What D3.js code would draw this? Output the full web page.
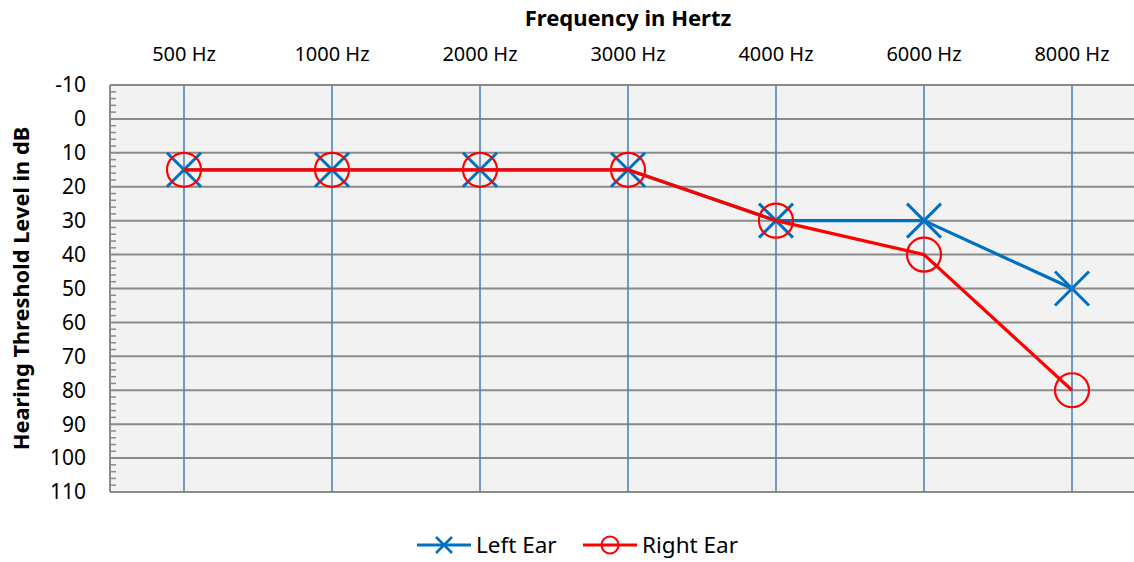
<!DOCTYPE html>
<html>
<head>
<meta charset="utf-8">
<script src="https://cdn.jsdelivr.net/npm/d3@7"></script>
<style>
  html, body { margin: 0; padding: 0; background: #fff; overflow: hidden; }
  svg { display: block; font-family: "Noto Sans", sans-serif; }
</style>
</head>
<body>
<svg id="chart" width="1134" height="562"></svg>
<script>
// ---------------------------------------------------------------------------
// Chart data
// ---------------------------------------------------------------------------
const frequencies = ["500 Hz", "1000 Hz", "2000 Hz", "3000 Hz", "4000 Hz", "6000 Hz", "8000 Hz"];
const leftEar  = [15, 15, 15, 15, 30, 30, 50];
const rightEar = [15, 15, 15, 15, 30, 40, 80];
const dbTicks  = [-10, 0, 10, 20, 30, 40, 50, 60, 70, 80, 90, 100, 110];

const BLUE = "#0070c0", RED = "#ff0000";

// Plot area (runs a little past the right edge of the window, as in the original)
const PLOT = { left: 110, right: 1146, top: 85, bottom: 492 };

const svg = d3.select("#chart");

const x = d3.scalePoint()
  .domain(frequencies)
  .range([PLOT.left, PLOT.right])
  .padding(0.5);

const y = d3.scaleLinear()
  .domain([-10, 110])
  .range([PLOT.top, PLOT.bottom]);

// Background
svg.append("rect")
  .attr("x", PLOT.left).attr("y", PLOT.top)
  .attr("width", PLOT.right - PLOT.left).attr("height", PLOT.bottom - PLOT.top)
  .attr("fill", "#f2f2f2");

// Horizontal gridlines at every major dB tick
svg.append("g")
  .selectAll("line")
  .data(dbTicks)
  .join("line")
  .attr("x1", PLOT.left).attr("x2", PLOT.right)
  .attr("y1", d => y(d)).attr("y2", d => y(d))
  .attr("stroke", "#8a8a8a")
  .attr("stroke-width", 2);

// Minor ticks every 2 dB, drawn inward from the left axis
const minor = d3.range(-10, 110, 2).filter(v => v % 10 !== 0);
svg.append("g")
  .selectAll("line")
  .data(minor)
  .join("line")
  .attr("x1", PLOT.left).attr("x2", PLOT.left + 6)
  .attr("y1", d => y(d)).attr("y2", d => y(d))
  .attr("stroke", "#8a8a8a")
  .attr("stroke-width", 1.5);

// Left axis line
svg.append("line")
  .attr("x1", PLOT.left).attr("x2", PLOT.left)
  .attr("y1", PLOT.top).attr("y2", PLOT.bottom)
  .attr("stroke", "#8a8a8a")
  .attr("stroke-width", 2);

// Vertical frequency gridlines
svg.append("g")
  .selectAll("line")
  .data(frequencies)
  .join("line")
  .attr("x1", d => x(d)).attr("x2", d => x(d))
  .attr("y1", PLOT.top).attr("y2", PLOT.bottom)
  .attr("stroke", "#4f81bd")
  .attr("stroke-width", 1.6);

// Y tick labels
svg.append("g")
  .selectAll("text")
  .data(dbTicks)
  .join("text")
  .attr("x", 86)
  .attr("y", d => y(d))
  .attr("dy", "0.35em")
  .attr("text-anchor", "end")
  .attr("font-size", 21)
  .attr("fill", "#000")
  .text(d => d);

// X tick labels (top)
svg.append("g")
  .selectAll("text")
  .data(frequencies)
  .join("text")
  .attr("x", d => x(d))
  .attr("y", 54)
  .attr("dy", "0.35em")
  .attr("text-anchor", "middle")
  .attr("font-size", 20)
  .attr("fill", "#000")
  .text(d => d);

// Axis titles
svg.append("text")
  .attr("x", (PLOT.left + PLOT.right) / 2)
  .attr("y", 18)
  .attr("dy", "0.35em")
  .attr("text-anchor", "middle")
  .attr("font-size", 22)
  .attr("font-weight", 700)
  .text("Frequency in Hertz");

svg.append("text")
  .attr("transform", `translate(21,${(PLOT.top + PLOT.bottom) / 2}) rotate(-90)`)
  .attr("dy", "0.35em")
  .attr("text-anchor", "middle")
  .attr("font-size", 21.8)
  .attr("font-weight", 700)
  .text("Hearing Threshold Level in dB");

// ---------------------------------------------------------------------------
// Series
// ---------------------------------------------------------------------------
const line = d3.line()
  .x((d, i) => x(frequencies[i]))
  .y(d => y(d));

function drawX(sel, size, width) {
  sel.append("path")
    .attr("d", `M${-size},${-size}L${size},${size}M${-size},${size}L${size},${-size}`)
    .attr("stroke", BLUE)
    .attr("stroke-width", width)
    .attr("fill", "none");
}

// Left ear (blue, X markers)
svg.append("path")
  .datum(leftEar)
  .attr("d", line)
  .attr("fill", "none")
  .attr("stroke", BLUE)
  .attr("stroke-width", 3.2)
  .attr("stroke-linejoin", "round");

svg.append("g")
  .selectAll("g")
  .data(leftEar)
  .join("g")
  .attr("transform", (d, i) => `translate(${x(frequencies[i])},${y(d)})`)
  .each(function () { drawX(d3.select(this), 17, 3); });

// Right ear (red, O markers)
svg.append("path")
  .datum(rightEar)
  .attr("d", line)
  .attr("fill", "none")
  .attr("stroke", RED)
  .attr("stroke-width", 3.2)
  .attr("stroke-linejoin", "round");

svg.append("g")
  .selectAll("circle")
  .data(rightEar)
  .join("circle")
  .attr("cx", (d, i) => x(frequencies[i]))
  .attr("cy", d => y(d))
  .attr("r", 17)
  .attr("fill", "none")
  .attr("stroke", RED)
  .attr("stroke-width", 2.2);

// ---------------------------------------------------------------------------
// Legend
// ---------------------------------------------------------------------------
const legendY = 545;
const legend = [
  { name: "Left Ear",  color: BLUE, x0: 417, kind: "x" },
  { name: "Right Ear", color: RED,  x0: 583, kind: "o" },
];

const lg = svg.append("g")
  .selectAll("g")
  .data(legend)
  .join("g")
  .attr("transform", d => `translate(${d.x0},${legendY})`);

lg.append("line")
  .attr("x1", 0).attr("x2", 54)
  .attr("stroke", d => d.color)
  .attr("stroke-width", 3);

lg.each(function (d) {
  const g = d3.select(this);
  if (d.kind === "x") {
    g.append("g").attr("transform", "translate(27,0)")
      .call(s => drawX(s, 8, 2.5));
  } else {
    g.append("circle")
      .attr("cx", 27).attr("r", 8.5)
      .attr("fill", "none")
      .attr("stroke", RED)
      .attr("stroke-width", 2);
  }
});

lg.append("text")
  .attr("x", 59)
  .attr("dy", "0.35em")
  .attr("font-size", 22.5)
  .attr("fill", "#000")
  .text(d => d.name);
</script>
</body>
</html>
